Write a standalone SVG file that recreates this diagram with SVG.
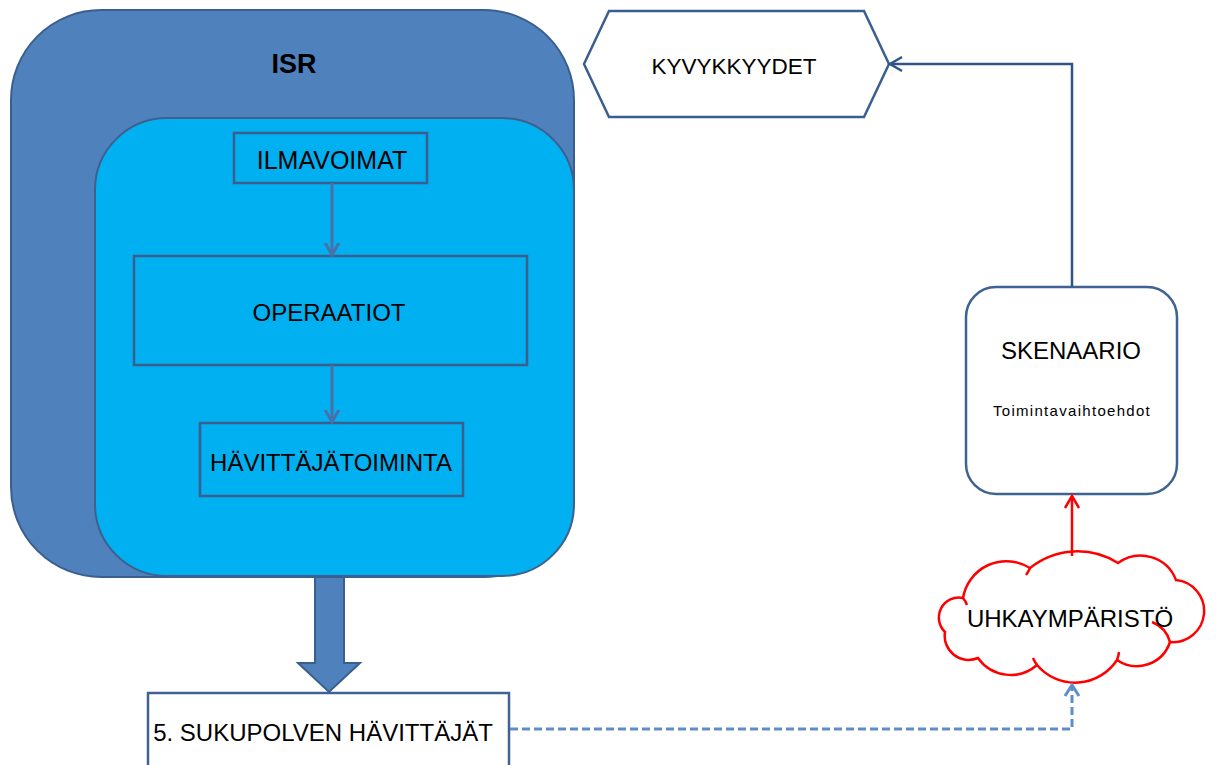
<svg xmlns="http://www.w3.org/2000/svg" width="1216" height="765" viewBox="0 0 1216 765">
<style>
  text { font-family: "Liberation Sans", Arial, sans-serif; fill: #000; text-anchor: middle; }
  .lbl { font-size: 24px; }
  .box { fill: #00B0F0; stroke: #3B5E8E; stroke-width: 2.5; }
  .wbox { fill: #fff; stroke: #3E6291; stroke-width: 2.5; }
  .inarrow { fill: none; stroke: #4A70AA; stroke-width: 3; }
  .cloud { fill: none; stroke: #FF0000; stroke-width: 2.5; }
</style>
<defs>
  <marker id="mIn" markerUnits="userSpaceOnUse" markerWidth="24" markerHeight="24" viewBox="-12 -12 24 24" refX="0" refY="0" orient="auto">
    <path d="M-16,-9 L0,0 L-16,9" fill="none" stroke="#4A70AA" stroke-width="3"/>
  </marker>
  <marker id="mNavy" markerUnits="userSpaceOnUse" markerWidth="24" markerHeight="24" viewBox="-14 -12 24 24" refX="0" refY="0" orient="auto">
    <path d="M-12,-7 L0,0 L-12,7" fill="none" stroke="#2E5488" stroke-width="2.5"/>
  </marker>
  <marker id="mRed" markerUnits="userSpaceOnUse" markerWidth="24" markerHeight="24" viewBox="-14 -12 24 24" refX="0" refY="0" orient="auto">
    <path d="M-12,-7 L0,0 L-12,7" fill="none" stroke="#FF0000" stroke-width="2.5"/>
  </marker>
  <marker id="mDash" markerUnits="userSpaceOnUse" markerWidth="24" markerHeight="24" viewBox="-14 -12 24 24" refX="0" refY="0" orient="auto">
    <path d="M-11,-7 L0,0 L-11,7" fill="none" stroke="#5F8DCB" stroke-width="3"/>
  </marker>
</defs>

<g id="isr">
  <rect x="11" y="10" width="563" height="567" rx="90" ry="90" fill="#4F81BD" stroke="#3A5F8F" stroke-width="2"/>
  <text x="294" y="73" style="font-size:27px;font-weight:bold">ISR</text>
</g>
<g id="inner">
  <rect x="95" y="118" width="479" height="458" rx="72" ry="72" fill="#00B0F0" stroke="#3F5F8C" stroke-width="2"/>
</g>
<g id="ilmavoimat">
  <rect class="box" x="234" y="133" width="193" height="50"/>
  <text class="lbl" x="332" y="169" style="font-size:25px">ILMAVOIMAT</text>
</g>
<g id="operaatiot">
  <rect class="box" x="134" y="256" width="393" height="109"/>
  <text class="lbl" x="329" y="321">OPERAATIOT</text>
</g>
<g id="havittajatoiminta">
  <rect class="box" x="200" y="423" width="263" height="73"/>
  <text class="lbl" x="331" y="471">HÄVITTÄJÄTOIMINTA</text>
</g>
<g id="sukupolven">
  <rect class="wbox" x="148" y="693" width="361" height="90"/>
  <text class="lbl" x="323" y="741">5. SUKUPOLVEN HÄVITTÄJÄT</text>
</g>
<g id="kyvykkyydet">
  <polygon points="584,64 609,11 864,11 889,64 864,117 609,117" fill="#fff" stroke="#3A5F8E" stroke-width="2.5"/>
  <text x="734" y="74" style="font-size:22.5px">KYVYKKYYDET</text>
</g>
<g id="skenaario">
  <rect class="wbox" x="966" y="287" width="211" height="207" rx="30" ry="30"/>
  <text class="lbl" x="1071" y="359">SKENAARIO</text>
  <text x="1072" y="416" style="font-size:15px;letter-spacing:1.3px">Toimintavaihtoehdot</text>
</g>
<g id="uhkaymparisto">
  <path d="M963,598 A44,44 0 0 1 1030,568 A76,76 0 0 1 1118,563 A38,38 0 0 1 1176,580 A31,31 0 0 1 1170,642 A35,35 0 0 1 1117,660 A50,50 0 0 1 1037,665 A40,40 0 0 1 978,658 A24,24 0 0 1 945,632 A20,20 0 0 1 963,598 Z" fill="#fff" stroke="#FF0000" stroke-width="2.5"/>
  <path class="cloud" d="M1152,622 A30,30 0 0 1 1170,642"/>
  <path class="cloud" d="M963,598 A22,22 0 0 1 967,605"/>
  <path class="cloud" d="M1030,568 A30,30 0 0 1 1026,575"/>
  <path class="cloud" d="M1117,660 A30,30 0 0 0 1119,652"/>
  <path class="cloud" d="M1037,665 A30,30 0 0 1 1033,658"/>
  <text class="lbl" x="1070" y="627">UHKAYMPÄRISTÖ</text>
</g>

<g id="connectors">
  <line class="inarrow" x1="332" y1="183" x2="332" y2="255" marker-end="url(#mIn)"/>
  <line class="inarrow" x1="332" y1="365" x2="332" y2="422" marker-end="url(#mIn)"/>
  <polygon points="315,577 344,577 344,663 360,663 329,692 298,663 315,663" fill="#4F81BD" stroke="#3A5F8F" stroke-width="2"/>
  <polyline points="1072,287 1072,64 890,64" fill="none" stroke="#2E5488" stroke-width="2.5" marker-end="url(#mNavy)"/>
  <line x1="1072" y1="556" x2="1072" y2="496" stroke="#FF0000" stroke-width="2.5" marker-end="url(#mRed)"/>
  <polyline points="510,729 1072,729 1072,685" fill="none" stroke="#5F8DCB" stroke-width="3" stroke-dasharray="8,4" marker-end="url(#mDash)"/>
</g>
</svg>
